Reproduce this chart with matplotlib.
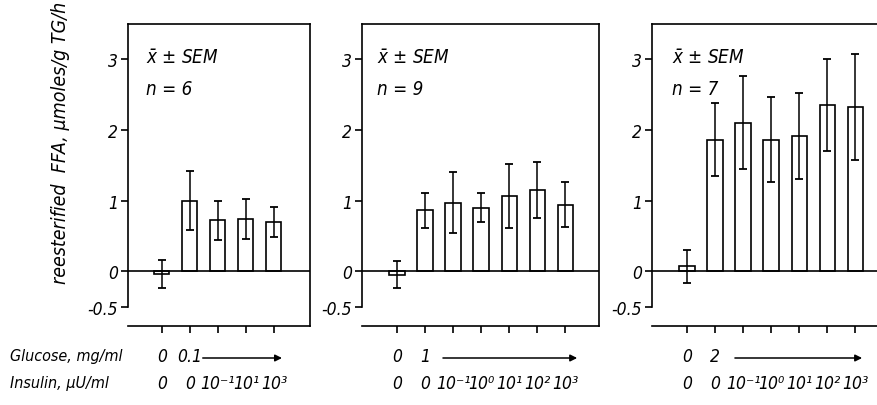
import matplotlib
matplotlib.use("Agg")
import numpy as np
from matplotlib import pyplot as plt
from matplotlib import transforms

# valores (média e erro padrão)
means_1 = [-0.04, 1.00, 0.72, 0.74, 0.70]
errs_1 = [0.20, 0.42, 0.28, 0.28, 0.21]
gluc_1 = ["0", "0.1"]
ins_1 = ["0", "0", "10⁻¹", "10¹", "10³"]

means_2 = [-0.05, 0.86, 0.97, 0.90, 1.06, 1.15, 0.94]
errs_2 = [0.19, 0.25, 0.43, 0.20, 0.45, 0.40, 0.32]
gluc_2 = ["0", "1"]
ins_2 = ["0", "0", "10⁻¹", "10⁰", "10¹", "10²", "10³"]

means_3 = [0.07, 1.86, 2.10, 1.86, 1.91, 2.35, 2.32]
errs_3 = [0.23, 0.52, 0.65, 0.60, 0.60, 0.65, 0.75]
gluc_3 = ["0", "2"]
ins_3 = ins_2

n_vals = [6, 9, 7]
yticks = [-0.5, 0, 1, 2, 3]
ytick_labels = ["-0.5", "0", "1", "2", "3"]

plt.rcParams["font.family"] = ["DejaVu Sans"]
plt.rcParams["font.style"] = "italic"
plt.rcParams["font.stretch"] = "condensed"
plt.rcParams["mathtext.default"] = "it"

W, H = 877, 406
fig = plt.figure(figsize=(W / 100, H / 100), dpi=100)

top_px, bot_px = 25, 327
ylo, yhi = -0.77, 3.49

def px_box(x0, x1):
    return [x0 / W, 1 - bot_px / H, (x1 - x0) / W, (bot_px - top_px) / H]

def panel(box, means, errs, gluc, ins, n, xlim, arrow, tx):
    ax = fig.add_axes(box)
    x = np.arange(len(means))
    ax.bar(x, means, width=0.54, color="white", edgecolor="black", linewidth=1.2, zorder=2)
    ax.errorbar(x, means, yerr=errs, fmt="none", ecolor="black", elinewidth=1.1,
                capsize=3, capthick=1.3, zorder=3)
    ax.axhline(0, color="black", lw=1.2, zorder=4)
    ax.set_xlim(*xlim)
    ax.set_ylim(ylo, yhi)
    ax.set_yticks(yticks)
    ax.set_yticklabels(ytick_labels, fontsize=12.5)
    ax.set_xticks(x)
    ax.set_xticklabels([])
    ax.tick_params(axis="y", direction="out", length=5, width=1.2, pad=2)
    ax.tick_params(axis="x", direction="out", length=5, width=1.2)
    for s in ax.spines.values():
        s.set_linewidth(1.2)
    ax.spines["left"].set_bounds(-0.5, yhi)
    tt = transforms.blended_transform_factory(ax.transData, ax.transAxes)
    ax.text(tx, 0.89, r"$\bar{x}$ $\pm$ SEM", transform=tt, fontsize=13.5,
            ha="left", va="center")
    ax.text(tx, 0.785, "n = %d" % n, transform=tt, fontsize=13.5,
            ha="left", va="center")
    tr = transforms.blended_transform_factory(ax.transData, fig.transFigure)
    for i, g in enumerate(gluc):
        ax.text(i, 1 - 357 / H, g, transform=tr, ha="center", va="center", fontsize=12.5,
                clip_on=False)
    for i, s in enumerate(ins):
        ax.text(i, 1 - 384 / H, s, transform=tr, ha="center", va="center", fontsize=12.5,
                clip_on=False)
    ax.annotate("", xy=(arrow[1], 1 - 359 / H), xytext=(arrow[0], 1 - 359 / H),
                xycoords=tr, textcoords=tr,
                arrowprops=dict(arrowstyle="-|>", color="black", lw=1.1,
                                mutation_scale=10, shrinkA=0, shrinkB=0))
    return ax

panel(px_box(128, 310), means_1, errs_1, gluc_1, ins_1, n_vals[0], (-1.21, 5.29), (1.46, 4.29), -0.55)
panel(px_box(362, 599), means_2, errs_2, gluc_2, ins_2, n_vals[1], (-1.25, 7.21), (1.64, 6.43), -0.72)
panel(px_box(652, 889), means_3, errs_3, gluc_3, ins_3, n_vals[2], (-1.25, 7.21), (1.71, 6.25), -0.52)

fig.text(10 / W, 1 - 357 / H, "Glucose, mg/ml", ha="left", va="center", fontsize=11.5)
fig.text(10 / W, 1 - 384 / H, "Insulin, μU/ml", ha="left", va="center", fontsize=11.5)
fig.text(61 / W, 1 - 143 / H, "reesterified  FFA, μmoles/g TG/h", rotation=90,
         ha="center", va="center", fontsize=14)

fig.savefig("out.png", dpi=100, facecolor="white")
